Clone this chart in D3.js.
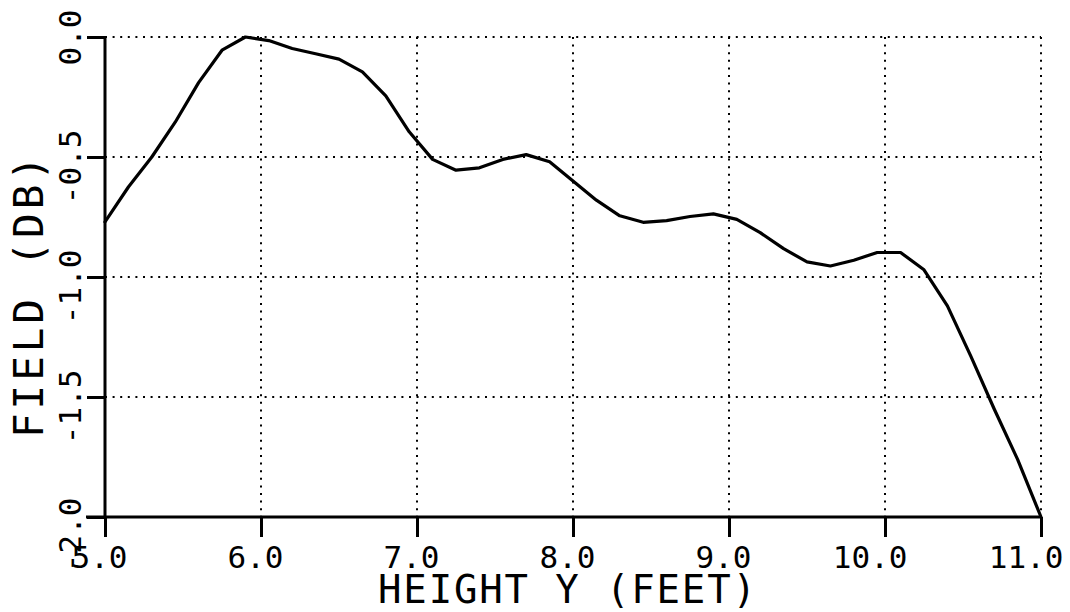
<!DOCTYPE html>
<html>
<head>
<meta charset="utf-8">
<script src="https://cdn.jsdelivr.net/npm/d3@7"></script>
<style>
  html, body { margin: 0; padding: 0; background: #fff; }
  svg { display: block; }
  text { font-family: "DejaVu Sans Mono", monospace; fill: #000; }
</style>
</head>
<body>
<svg id="chart" width="1070" height="612"></svg>
<script>
// ---- data ----
const heightFeet = [5.00, 5.15, 5.30, 5.45, 5.60, 5.75, 5.90, 6.05, 6.20, 6.35, 6.50, 6.65, 6.80, 6.95,
  7.10, 7.25, 7.40, 7.55, 7.70, 7.85, 8.00, 8.15, 8.30, 8.45, 8.60, 8.75, 8.90, 9.05, 9.20, 9.35,
  9.50, 9.65, 9.80, 9.95, 10.10, 10.25, 10.40, 10.55, 10.70, 10.85, 11.00];
const fieldDb = [-0.77, -0.625, -0.50, -0.355, -0.19, -0.055, 0.0, -0.015, -0.048, -0.07, -0.092, -0.145,
  -0.245, -0.395, -0.51, -0.555, -0.545, -0.51, -0.49, -0.52, -0.60, -0.68, -0.745, -0.772, -0.765,
  -0.748, -0.737, -0.76, -0.815, -0.882, -0.937, -0.954, -0.93, -0.898, -0.898, -0.97, -1.12, -1.33,
  -1.55, -1.76, -2.00];
const xTicks = [5, 6, 7, 8, 9, 10, 11];
const xTickLabels = ["5.0", "6.0", "7.0", "8.0", "9.0", "10.0", "11.0"];
const yTicks = [0, -0.5, -1.0, -1.5, -2.0];
const yTickLabels = ["0.0", "-0.5", "-1.0", "-1.5", "-2.0"];
const xTitle = "HEIGHT Y (FEET)";
const yTitle = "FIELD (DB)";

// ---- layout ----
const mLeft = 105, mRight = 1041, mTop = 37, mBottom = 517;
const svg = d3.select("#chart");

const x = d3.scaleLinear().domain([5, 11]).range([mLeft, mRight]);
const y = d3.scaleLinear().domain([-2, 0]).range([mBottom, mTop]);

// grid (dotted)
const grid = svg.append("g").attr("stroke", "#000").attr("stroke-width", 2)
  .attr("stroke-dasharray", "2,5.6").attr("fill", "none");
grid.selectAll("line.v").data(xTicks.slice(1)).join("line").attr("class", "v")
  .attr("x1", d => x(d)).attr("x2", d => x(d))
  .attr("y1", y(0)).attr("y2", y(-2));
grid.selectAll("line.h").data(yTicks.slice(0, -1)).join("line").attr("class", "h")
  .attr("x1", x(5)).attr("x2", x(11))
  .attr("y1", d => y(d)).attr("y2", d => y(d));

// x axis
const xAxis = svg.append("g").attr("transform", `translate(0,${mBottom})`)
  .call(d3.axisBottom(x).tickValues(xTicks).tickSize(20).tickSizeOuter(0).tickFormat(""));
xAxis.select(".domain").attr("stroke", "#000").attr("stroke-width", 3)
  .attr("d", `M${mLeft - 19},0H${mRight}`);
xAxis.selectAll(".tick line").attr("stroke", "#000").attr("stroke-width", 3);
xAxis.selectAll(".tick").append("text")
  .attr("x", 22).attr("y", 51)
  .attr("text-anchor", "end")
  .style("font-size", "31px")
  .text((d, i) => xTickLabels[i]);

// y axis
const yAxis = svg.append("g").attr("transform", `translate(${mLeft},0)`)
  .call(d3.axisLeft(y).tickValues(yTicks).tickSize(18).tickSizeOuter(0).tickFormat(""));
yAxis.select(".domain").attr("stroke", "#000").attr("stroke-width", 3)
  .attr("d", `M0,${mTop}V${mBottom}`);
yAxis.selectAll(".tick line").attr("stroke", "#000").attr("stroke-width", 3);
yAxis.selectAll(".tick").append("text")
  .attr("transform", "translate(-24,0) rotate(-90)")
  .attr("x", d => d === -2 ? 20 : 28).attr("y", 0)
  .attr("text-anchor", "end")
  .style("font-size", "31px")
  .text((d, i) => yTickLabels[i]);

// titles
svg.append("text")
  .attr("x", 378).attr("y", 603)
  .attr("text-anchor", "start")
  .attr("textLength", 378).attr("lengthAdjust", "spacing")
  .style("font-size", "39px")
  .text(xTitle);
svg.append("text")
  .attr("transform", "translate(43,438) rotate(-90)")
  .attr("x", 0).attr("y", 0)
  .attr("text-anchor", "start")
  .attr("textLength", 282).attr("lengthAdjust", "spacing")
  .style("font-size", "41px")
  .text(yTitle);

// curve
const line = d3.line().x((d, i) => x(heightFeet[i])).y(d => y(d));
svg.append("path")
  .datum(fieldDb)
  .attr("fill", "none").attr("stroke", "#000").attr("stroke-width", 3.2)
  .attr("stroke-linejoin", "round").attr("stroke-linecap", "round")
  .attr("d", line);
</script>
</body>
</html>
